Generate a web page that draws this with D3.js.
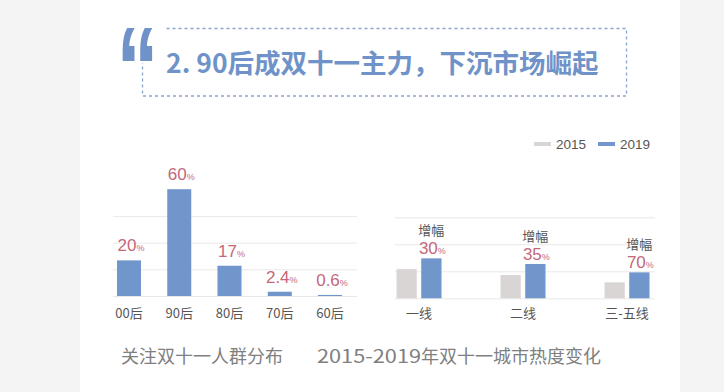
<!DOCTYPE html>
<html><head><meta charset="utf-8">
<script src="https://cdn.jsdelivr.net/npm/d3@7/dist/d3.min.js"></script>
<style>
html,body{margin:0;padding:0;background:#f4f4f4;}
svg{display:block;font-family:"Noto Sans CJK SC","Liberation Sans",sans-serif;}
</style></head>
<body>
<svg id="c" width="724" height="392"></svg>
<script>
// ---- data ----
const titleText = "2. 90后成双十一主力，下沉市场崛起";
const ageCategories = ["00后","90后","80后","70后","60后"];
const ageValues = [20, 60, 17, 2.4, 0.6];
const ageTitle = "关注双十一人群分布";
const cityCategories = ["一线","二线","三-五线"];
const seriesNames = ["2015","2019"];
const city2015 = [108, 86, 59];
const city2019 = [148, 127, 96];
const growthLabels = ["30","35","70"];
const cityTitleYears = "2015-2019";
const cityTitleRest = "年双十一城市热度变化";

const BLUE = "#7096cc", GRAY = "#d9d5d5", PINK = "#c4687a", TXT = "#555", GRID = "#e8e8e8";
const svg = d3.select("#c");

// backgrounds
svg.append("rect").attr("x",0).attr("y",0).attr("width",724).attr("height",392).attr("fill","#f4f4f4");
svg.append("rect").attr("x",80).attr("y",0).attr("width",600).attr("height",392).attr("fill","#ffffff");

// heading box
svg.append("rect").attr("x",142.5).attr("y",28.5).attr("width",484).attr("height",67.5)
  .attr("fill","none").attr("stroke","#8aa5cc").attr("stroke-width",1.3).attr("stroke-dasharray","3,3");
svg.append("rect").attr("x",116).attr("y",24).attr("width",50).attr("height",39).attr("fill","#fff");
svg.append("text").attr("transform","translate(116.6,109) scale(1.05,1.45)").attr("x",0).attr("y",0)
  .attr("font-size",80).attr("font-weight","bold")
  .attr("font-family","Liberation Sans, Arial, sans-serif").attr("fill","#6f93c8").text("\u201C");
svg.append("text").attr("x",166).attr("y",73).attr("font-size",26.5).attr("font-weight","bold")
  .attr("fill","#6f93c8").text(titleText);

// ---- left chart ----
const xL = d3.scalePoint().domain(ageCategories).range([129, 330]);
const yL = d3.scaleLinear().domain([0, 60]).range([296, 189.2]);
const bwL = 24;
const gL = svg.append("g");
gL.selectAll("line.grid").data([0,15,30,45]).join("line")
  .attr("x1",113).attr("x2",357).attr("y1",d=>yL(d)+0.5).attr("y2",d=>yL(d)+0.5)
  .attr("stroke",GRID).attr("stroke-width",1);
gL.selectAll("rect.bar").data(ageValues).join("rect")
  .attr("x",(d,i)=>xL(ageCategories[i])-bwL/2).attr("width",bwL)
  .attr("y",d=>yL(d)).attr("height",d=>yL(0)-yL(d)).attr("fill",BLUE);
const lblL = gL.selectAll("text.val").data(ageValues).join("text")
  .attr("x",(d,i)=>xL(ageCategories[i])+2).attr("y",d=>yL(d)-9)
  .attr("text-anchor","middle").attr("fill",PINK).attr("font-family","Liberation Sans, Arial, sans-serif");
lblL.append("tspan").attr("font-size",17).text(d=>d);
lblL.append("tspan").attr("font-size",9).text("%");
gL.selectAll("text.cat").data(ageCategories).join("text")
  .attr("x",d=>xL(d)).attr("y",318).attr("text-anchor","middle").attr("font-size",13)
  .attr("fill",TXT).text(d=>d);
svg.append("text").attr("x",202).attr("y",363).attr("text-anchor","middle").attr("font-size",18)
  .attr("fill","#808080").text(ageTitle);

// ---- right chart ----
const xR = d3.scalePoint().domain(cityCategories).range([419, 627]);
const xInner = d3.scaleBand().domain(seriesNames).range([-22.5, 22.5]).paddingInner(0.18);
const yR = d3.scaleLinear().domain([0, 300]).range([298.3, 217.3]);
const gR = svg.append("g");
gR.selectAll("line.grid").data([0,100,200,300]).join("line")
  .attr("x1",395).attr("x2",655).attr("y1",d=>yR(d)+0.5).attr("y2",d=>yR(d)+0.5)
  .attr("stroke",GRID).attr("stroke-width",1);
const seriesData = [city2015, city2019];
const colors = [GRAY, BLUE];
seriesData.forEach((vals, s) => {
  gR.selectAll("rect.s"+s).data(vals).join("rect")
    .attr("x",(d,i)=>xR(cityCategories[i])+xInner(seriesNames[s])).attr("width",xInner.bandwidth())
    .attr("y",d=>yR(d)).attr("height",d=>yR(0)-yR(d)).attr("fill",colors[s]);
});
const c19 = (i)=>xR(cityCategories[i])+xInner("2019")+xInner.bandwidth()/2;
const lblR = gR.selectAll("text.val").data(city2019).join("text")
  .attr("x",(d,i)=>c19(i)+1).attr("y",d=>yR(d)-4)
  .attr("text-anchor","middle").attr("fill",PINK).attr("font-family","Liberation Sans, Arial, sans-serif");
lblR.append("tspan").attr("font-size",17).text((d,i)=>growthLabels[i]);
lblR.append("tspan").attr("font-size",9).text("%");
gR.selectAll("text.zf").data(city2019).join("text")
  .attr("x",(d,i)=>c19(i)).attr("y",d=>yR(d)-23).attr("text-anchor","middle")
  .attr("font-size",13).attr("fill",TXT).text("增幅");
gR.selectAll("text.cat").data(cityCategories).join("text")
  .attr("x",d=>xR(d)).attr("y",318).attr("text-anchor","middle").attr("font-size",13)
  .attr("fill",TXT).text(d=>d);
const rt = svg.append("text").attr("x",317).attr("y",363).attr("font-size",18).attr("fill","#808080");
rt.append("tspan").attr("textLength",104).attr("lengthAdjust","spacingAndGlyphs").text(cityTitleYears);
rt.append("tspan").text(cityTitleRest);

// legend
const legX = [534, 598];
seriesNames.forEach((n,i)=>{
  svg.append("rect").attr("x",legX[i]).attr("y",142).attr("width",17).attr("height",4).attr("fill",colors[i]);
  svg.append("text").attr("x",legX[i]+22).attr("y",149).attr("font-size",13.5)
    .attr("font-family","Liberation Sans, Arial, sans-serif").attr("fill",TXT).text(n);
});
</script>
</body></html>
